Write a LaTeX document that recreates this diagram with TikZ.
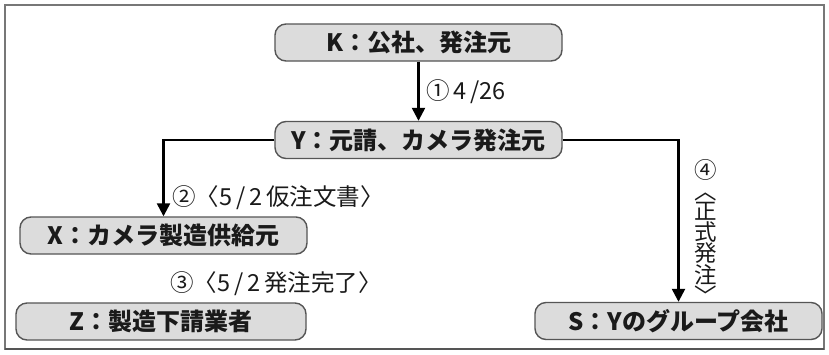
\documentclass[tikz,border=0pt]{standalone}
\usepackage{fontspec}
\setmainfont{Noto Sans CJK JP}
\usetikzlibrary{arrows.meta}
\definecolor{boxfill}{HTML}{DCDCDC}
\definecolor{boxline}{HTML}{555555}
\definecolor{framec}{HTML}{777777}
\definecolor{textc}{HTML}{1A1A1A}
\tikzset{
  entity/.style={draw=boxline, line width=1.4pt, fill=boxfill, rounded corners=11pt,
    minimum height=37pt, inner sep=0pt, text=textc,
    font=\fontsize{24}{26}\selectfont\bfseries},
  flow/.style={line width=2.4pt, draw=black,
    -{Triangle[width=13pt,length=13pt]}},
  lab/.style={inner sep=0pt, text=textc, font=\fontsize{23.5}{25}\selectfont},
  vlab/.style={inner sep=0pt, text=textc, align=center,
    font=\fontsize{22.5}{20.5}\selectfont}
}
\begin{document}
\begin{tikzpicture}[x=1pt,y=-1pt]
\useasboundingbox (0,0) rectangle (829,354);
\fill[white] (0,0) rectangle (829,354);
\draw[framec, line width=1.3pt] (5,5) rectangle (824,349);
\draw[boxline, line width=2pt] (5,349) -- (824,349);

\node[entity, minimum width=287pt] (K) at (418.5,42.5) {K：公社、発注元};
\node[entity, minimum width=287pt] (Y) at (418.5,140) {Y：元請、カメラ発注元};
\node[entity, minimum width=287pt] (X) at (163.5,235.5) {X：カメラ製造供給元};
\node[entity, minimum width=290pt] (Z) at (161,321.5) {Z：製造下請業者};
\node[entity, minimum width=287pt] (S) at (678.5,321) {S：Yのグループ会社};

\draw[flow] (K) -- (Y);
\draw[flow] (Y.west) -| (X.north);
\draw[flow] (Y.east) -| (S.north);

\node[lab, anchor=west] (l1) at (426,92) {①\,4\,/26};
\node[lab, anchor=west] (l2) at (172,198) {②〈5\,/\,2\,仮注文書〉};
\node[lab, anchor=west] (l3) at (170,284) {③〈5\,/\,2\,発注完了〉};

\node[vlab] (v) at (706,232) {④\\︿\\正\\式\\発\\注\\﹀};
\end{tikzpicture}
\end{document}
